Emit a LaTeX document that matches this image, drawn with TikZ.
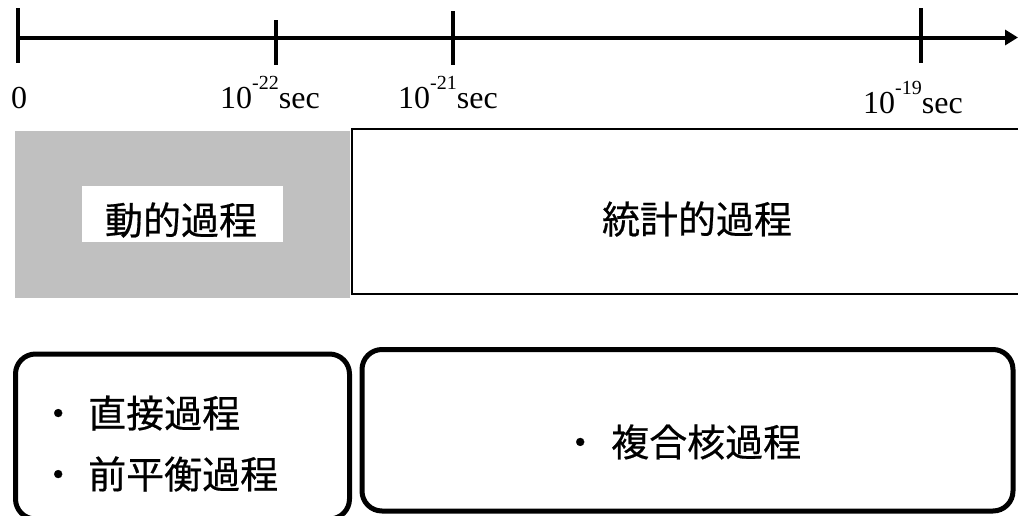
\documentclass[tikz,border=0pt]{standalone}
\usepackage{fontspec}
\setmainfont{Liberation Serif}
\newfontfamily\cjk[FakeBold=0.5]{Noto Sans CJK JP}
\usetikzlibrary{arrows.meta}
\definecolor{boxgray}{RGB}{192,192,192}
\newcommand\expo[1]{\raisebox{19pt}{\fontsize{20}{20}\selectfont #1}}
\begin{document}
\begin{tikzpicture}[x=1pt,y=-1pt,
  axisline/.style={line width=4pt},
  tickline/.style={line width=4pt},
  timelabel/.style={anchor=base west, inner sep=0pt, font=\fontsize{32}{36}\selectfont},
  cjktext/.style={inner sep=0pt, font=\cjk\fontsize{38}{44}\selectfont},
  roundbox/.style={draw, line width=5pt, rounded corners=20pt, inner sep=0pt},
]
\useasboundingbox (0,0) rectangle (1018,515);
\clip (0,0) rectangle (1018,515);

% time axis
\coordinate (axs) at (18,37.5);
\coordinate (axe) at (1018,37.5);
\draw[axisline, -{Triangle[length=13pt,width=15pt]}] (axs) -- (axe);
\coordinate (k0a) at (18,8);   \coordinate (k0b) at (18,63);
\coordinate (k1a) at (276,20); \coordinate (k1b) at (276,65);
\coordinate (k2a) at (453,11); \coordinate (k2b) at (453,65);
\coordinate (k3a) at (921,8);  \coordinate (k3b) at (921,63);
\draw[tickline] (k0a) -- (k0b);
\draw[tickline] (k1a) -- (k1b);
\draw[tickline] (k2a) -- (k2b);
\draw[tickline] (k3a) -- (k3b);

\node[timelabel] (t0) at (11,108) {0};
\node[timelabel] (t22) at (220,108) {10\expo{-22}sec};
\node[timelabel] (t21) at (398,108) {10\expo{-21}sec};
\node[timelabel] (t19) at (863,113) {10\expo{-19}sec};

% process bands
\node[fill=boxgray, inner sep=0pt, minimum width=335pt, minimum height=167pt] (dynbox) at (182.5,214.5) {};
\node[fill=white, inner sep=0pt, minimum width=201pt, minimum height=56pt] (dynbg) at (182.5,214) {};
\node[cjktext] (dyn) at (181,220) {動的過程};
\node[draw, line width=2pt, inner sep=0pt, minimum width=678pt, minimum height=165pt] (statbox) at (691.3,211.5) {};
\node[cjktext] (stat) at (697,219) {統計的過程};

% lists
\node[roundbox, minimum width=334pt, minimum height=165pt] (leftbox) at (182.5,436.5) {};
\node[roundbox, minimum width=651pt, minimum height=161.5pt] (rightbox) at (687.5,430.25) {};
\node[cjktext, anchor=west] (direct) at (39,413) {・\hspace{11pt}直接過程};
\node[cjktext, anchor=west] (preeq) at (39,474) {・\hspace{11pt}前平衡過程};
\node[cjktext, anchor=west] (compound) at (561,442) {・\hspace{12pt}複合核過程};
\end{tikzpicture}
\end{document}
